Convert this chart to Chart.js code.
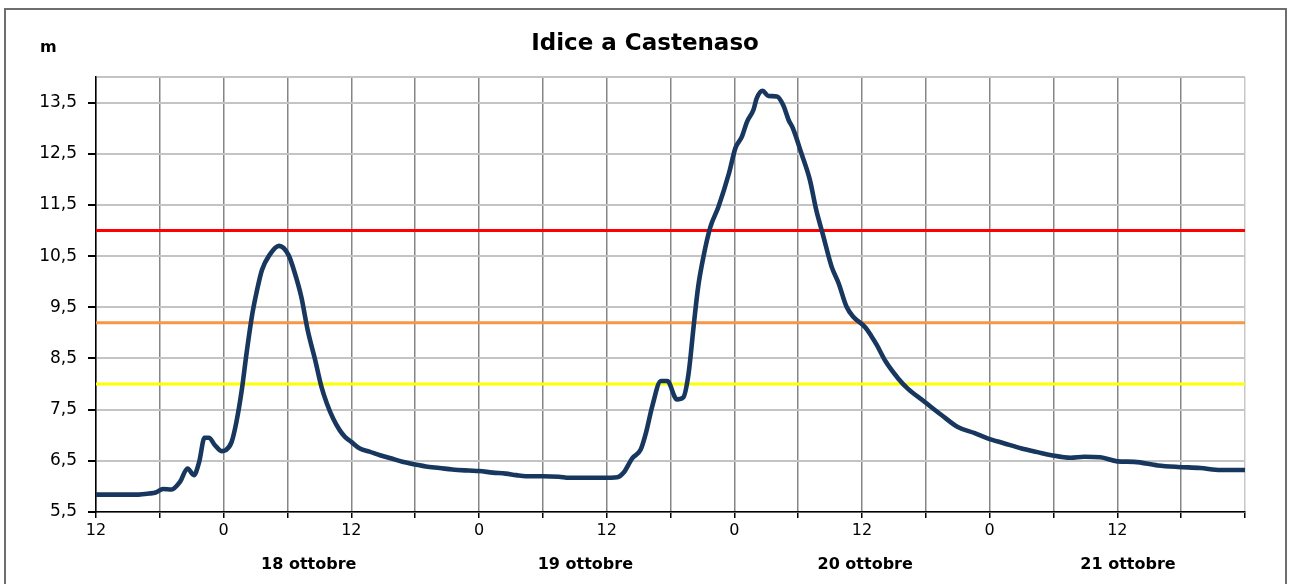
<!DOCTYPE html>
<html>
<head>
<meta charset="utf-8">
<script src="https://cdn.jsdelivr.net/npm/chart.js@4/dist/chart.umd.min.js"></script>
<style>
html,body{margin:0;padding:0;background:#fff;}
canvas{display:block;}
</style>
</head>
<body>
<canvas id="c" width="1290" height="584"></canvas>
<script>
// hours elapsed since 17 ottobre 12:00
const hours = [0,2,4,5,5.6,6.3,7.1,7.9,8.6,9.2,9.7,10.2,10.6,11.2,11.8,12.2,12.75,13.2,13.7,14.15,14.7,15.1,15.6,16.3,17.2,18.1,18.7,19.3,19.9,20.6,21.2,21.7,22.3,22.9,23.4,24,24.8,25.7,26.7,27.7,28.8,30,31,32.3,33.5,35,36,37.3,38.5,39.5,40.4,42,43.5,44.5,46,47.6,49,49.6,50.4,51.2,51.7,52.3,53.1,53.7,54.6,55.2,55.7,56.2,56.6,57.1,57.75,58.5,59.5,60.1,60.7,61.2,61.8,62.1,62.65,63.2,64,64.6,65.1,65.5,66.3,67.1,67.7,68.3,69.15,69.8,70.55,71.2,72.3,72.9,73.4,74.2,75.4,76.3,77.9,79.5,81,82.6,83.8,85.4,87,88.5,89.8,91.6,92.9,94.4,96,97.6,99.8,101.7,103.8,105.7,108];
// water level (m)
const levels = [5.84,5.84,5.84,5.86,5.88,5.95,5.94,6.09,6.35,6.22,6.48,6.95,6.95,6.80,6.69,6.71,6.87,7.26,7.88,8.6,9.38,9.80,10.23,10.52,10.70,10.52,10.16,9.70,9.05,8.47,7.94,7.62,7.32,7.10,6.97,6.87,6.74,6.68,6.61,6.55,6.48,6.43,6.39,6.36,6.33,6.31,6.30,6.27,6.25,6.22,6.20,6.20,6.19,6.17,6.17,6.17,6.18,6.27,6.55,6.72,7.05,7.58,8.06,8.06,7.70,7.74,8.21,9.18,9.90,10.49,11.07,11.46,12.12,12.61,12.83,13.13,13.36,13.58,13.73,13.63,13.62,13.45,13.16,13.0,12.51,11.99,11.40,10.94,10.29,9.97,9.51,9.31,9.11,8.93,8.76,8.45,8.11,7.91,7.65,7.39,7.16,7.04,6.94,6.84,6.74,6.67,6.61,6.56,6.58,6.57,6.49,6.48,6.41,6.38,6.36,6.32,6.32];

const thresholdValues = [11.0, 9.2, 8.0];
const thresholdColors = ['#FF0000', '#F79646', '#FFFF00'];

const xTickValues = [0,6,12,18,24,30,36,42,48,54,60,66,72,78,84,90,96,102,108];
const xTickLabels = ['12','','0','','12','','0','','12','','0','','12','','0','','12','',''];
const yTickValues = [5.5,6.5,7.5,8.5,9.5,10.5,11.5,12.5,13.5,14];
const yTickLabels = ['5,5','6,5','7,5','8,5','9,5','10,5','11,5','12,5','13,5',''];
const dayLabels = ['18 ottobre','19 ottobre','20 ottobre','21 ottobre'];
const dayLabelHours = [20, 46, 72.3, 97];

const titleText = 'Idice a Castenaso';
const unitText = 'm';

const xMin = 0, xMax = 108, yMin = 5.5, yMax = 14;

const datasets = thresholdValues.map((v, i) => ({
  data: [{x: xMin, y: v}, {x: xMax, y: v}],
  borderColor: thresholdColors[i],
  borderWidth: 3,
  pointRadius: 0,
  order: 2
}));
datasets.push({
  data: hours.map((h, i) => ({x: h, y: levels[i]})),
  borderColor: '#17375E',
  borderWidth: 4.6,
  pointRadius: 0,
  cubicInterpolationMode: 'monotone',
  order: 1
});

const framePlugin = {
  id: 'frame',
  beforeDraw(chart) {
    const ctx = chart.ctx;
    ctx.save();
    ctx.fillStyle = '#fff';
    ctx.fillRect(0, 0, chart.width, chart.height);
    ctx.strokeStyle = '#6e6e6e';
    ctx.lineWidth = 2;
    ctx.strokeRect(5, 9, 1281, 600);
    ctx.restore();
  },
  afterDraw(chart) {
    const ctx = chart.ctx;
    ctx.save();
    ctx.fillStyle = '#000';
    ctx.font = 'bold 16px "DejaVu Sans"';
    ctx.textBaseline = 'alphabetic';
    ctx.fillText(unitText, 40, 52);
    ctx.restore();
  }
};

new Chart(document.getElementById('c'), {
  type: 'line',
  data: { datasets },
  plugins: [framePlugin],
  options: {
    responsive: false,
    animation: false,
    layout: { padding: 0 },
    plugins: {
      legend: { display: false },
      tooltip: { enabled: false },
      title: {
        display: true,
        text: titleText,
        color: '#000',
        font: { family: 'DejaVu Sans', size: 23, weight: 'bold', lineHeight: 1.2 },
        padding: { top: 30, bottom: 19.4 }
      }
    },
    scales: {
      x: {
        type: 'linear',
        position: 'bottom',
        min: xMin, max: xMax,
        afterBuildTicks(scale) { scale.ticks = xTickValues.map(v => ({value: v})); },
        afterFit(scale) { scale.height = 36; },
        ticks: {
          autoSkip: false, maxRotation: 0,
          color: '#000',
          font: { family: 'DejaVu Sans', size: 16 },
          padding: 3,
          callback: (v, i) => xTickLabels[i]
        },
        grid: {
          color: ctx => (ctx.tick && ctx.tick.value === xMax) ? '#c8c8c8' : '#858585',
          lineWidth: 1.5,
          tickColor: '#000',
          tickLength: 6
        },
        border: { color: '#000', width: 1.5 }
      },
      x2: {
        type: 'linear',
        position: 'bottom',
        min: xMin, max: xMax,
        afterBuildTicks(scale) { scale.ticks = dayLabelHours.map(v => ({value: v})); },
        afterFit(scale) { scale.height = 36; },
        ticks: {
          autoSkip: false, maxRotation: 0,
          color: '#000',
          font: { family: 'DejaVu Sans', size: 16, weight: 'bold' },
          padding: 7,
          callback: (v, i) => dayLabels[i]
        },
        grid: { display: false, drawTicks: false },
        border: { display: false }
      },
      y: {
        type: 'linear',
        position: 'left',
        min: yMin, max: yMax,
        afterBuildTicks(scale) { scale.ticks = yTickValues.map(v => ({value: v})); },
        afterFit(scale) { scale.width = 96; },
        ticks: {
          autoSkip: false,
          color: '#000',
          font: { family: 'DejaVu Sans', size: 17 },
          padding: 11,
          callback: (v, i) => yTickLabels[i]
        },
        grid: {
          color: '#c4c4c4',
          lineWidth: 2,
          tickColor: ctx => (ctx.tick && ctx.tick.value === yMax) ? 'rgba(0,0,0,0)' : '#000',
          tickLength: 8
        },
        border: { color: '#000', width: 1.5 }
      },
      yRight: {
        type: 'linear',
        position: 'right',
        min: yMin, max: yMax,
        afterFit(scale) { scale.width = 45; },
        ticks: { display: false },
        grid: { display: false, drawTicks: false },
        border: { display: false }
      }
    }
  }
});
</script>
</body>
</html>
